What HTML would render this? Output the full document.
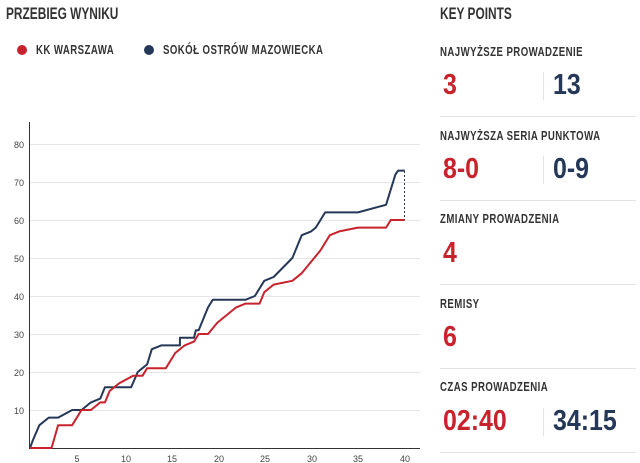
<!DOCTYPE html>
<html><head><meta charset="utf-8"><style>
body{margin:0;width:640px;height:463px;background:#fff;overflow:hidden;position:relative;font-family:"Liberation Sans",sans-serif;font-weight:bold}
.a{position:absolute;white-space:nowrap;transform-origin:0 0}
.h{font-size:17px;color:#333;transform:scaleX(0.7)}
.l{font-size:13px;color:#333;letter-spacing:0.6px;transform:scaleX(0.74)}
.v{font-size:29px;color:#c8232c;transform:scaleX(0.86)}
.b{color:#253858}
.sep{position:absolute;left:440px;width:196px;height:1px;background:#e3e3e3}
.vd{position:absolute;left:543px;width:1px;height:28px;background:#e3e3e3}
</style></head><body>
<div class="a h" style="left:6px;top:4px">PRZEBIEG WYNIKU</div>
<div class="a" style="left:17px;top:45px;width:10px;height:10px;border-radius:50%;background:#c8232c"></div>
<div class="a l" style="left:36px;top:42px">KK WARSZAWA</div>
<div class="a" style="left:144px;top:45px;width:10px;height:10px;border-radius:50%;background:#253858"></div>
<div class="a l" style="left:163px;top:42px">SOKÓŁ OSTRÓW MAZOWIECKA</div>
<svg class="a" style="left:0;top:0" width="420" height="463">
<g stroke="#e6e6e6" stroke-width="1">
<line x1="29" x2="420" y1="144.5" y2="144.5"/><line x1="29" x2="420" y1="182.5" y2="182.5"/><line x1="29" x2="420" y1="220.5" y2="220.5"/><line x1="29" x2="420" y1="258.5" y2="258.5"/><line x1="29" x2="420" y1="296.5" y2="296.5"/><line x1="29" x2="420" y1="334.5" y2="334.5"/><line x1="29" x2="420" y1="372.5" y2="372.5"/><line x1="29" x2="420" y1="410.5" y2="410.5"/>
</g>
<line x1="29.5" x2="29.5" y1="122" y2="448" stroke="#333"/>
<line x1="29" x2="420" y1="448.5" y2="448.5" stroke="#333"/>
<g font-family="Liberation Sans,sans-serif" font-size="9" fill="#444" font-weight="normal" text-anchor="end">
<text x="24" y="148">80</text><text x="24" y="186">70</text><text x="24" y="224">60</text><text x="24" y="262">50</text><text x="24" y="300">40</text><text x="24" y="338">30</text><text x="24" y="376">20</text><text x="24" y="414">10</text>
</g>
<g font-family="Liberation Sans,sans-serif" font-size="9" fill="#444" font-weight="normal" text-anchor="middle">
<text x="77" y="462">5</text><text x="126" y="462">10</text><text x="172" y="462">15</text><text x="219" y="462">20</text><text x="265" y="462">25</text><text x="312" y="462">30</text><text x="358" y="462">35</text><text x="405" y="462">40</text>
</g>
<g transform="translate(30,448) scale(9.37,-3.8)" fill="none" stroke-width="2" stroke-linejoin="round">
<polyline vector-effect="non-scaling-stroke" stroke="#253858" points="0,0 0.3,2 1,6 2,8 3,8 4.5,10 5.5,10 6.5,12 7.5,13 8,16 10.8,16 11.5,20 12,21 12.5,22 13,26 14,27 16,27 16,29 17.5,29 17.7,31 18,31 19,37 19.5,39 23,39 24,40 25,44 26,45 28,50 29,56 30,57 30.5,58 31.5,62 35,62 38,64 38.5,68 39,72 39.3,73 40,73"/>
<polyline vector-effect="non-scaling-stroke" stroke="#c8232c" points="0,0 2.3,0 3,6 4.5,6 5.5,10 6.5,10 7.5,12 8,12 8.5,15 9.5,17 11,19 12,19 12.5,21 14.5,21 15.5,25 16.5,27 17.5,28 18,30 19,30 20,33 21,35 22,37 23,38 24.5,38 25,41 26,43 28,44 29,46 30,49 31,52 32,56 33,57 35,58 38,58 38.5,60 40,60"/>
</g>
<line x1="404.5" x2="404.5" y1="171" y2="220" stroke="#253858" stroke-dasharray="2,2"/>
</svg>
<div class="a h" style="left:440px;top:4px">KEY POINTS</div>
<div class="a l" style="left:440px;top:44px">NAJWYŻSZE PROWADZENIE</div>
<div class="a v" style="left:443px;top:69px">3</div><div class="vd" style="top:72px"></div><div class="a v b" style="left:553px;top:69px">13</div>
<div class="sep" style="top:116px"></div>
<div class="a l" style="left:440px;top:128px">NAJWYŻSZA SERIA PUNKTOWA</div>
<div class="a v" style="left:443px;top:153px">8-0</div><div class="vd" style="top:156px"></div><div class="a v b" style="left:553px;top:153px">0-9</div>
<div class="sep" style="top:200px"></div>
<div class="a l" style="left:440px;top:211px">ZMIANY PROWADZENIA</div>
<div class="a v" style="left:443px;top:237px">4</div>
<div class="sep" style="top:284px"></div>
<div class="a l" style="left:440px;top:296px">REMISY</div>
<div class="a v" style="left:443px;top:321px">6</div>
<div class="sep" style="top:368px"></div>
<div class="a l" style="left:440px;top:379px">CZAS PROWADZENIA</div>
<div class="a v" style="left:443px;top:405px">02:40</div><div class="vd" style="top:408px"></div><div class="a v b" style="left:553px;top:405px">34:15</div>
<div class="sep" style="top:452px"></div>
</body></html>
